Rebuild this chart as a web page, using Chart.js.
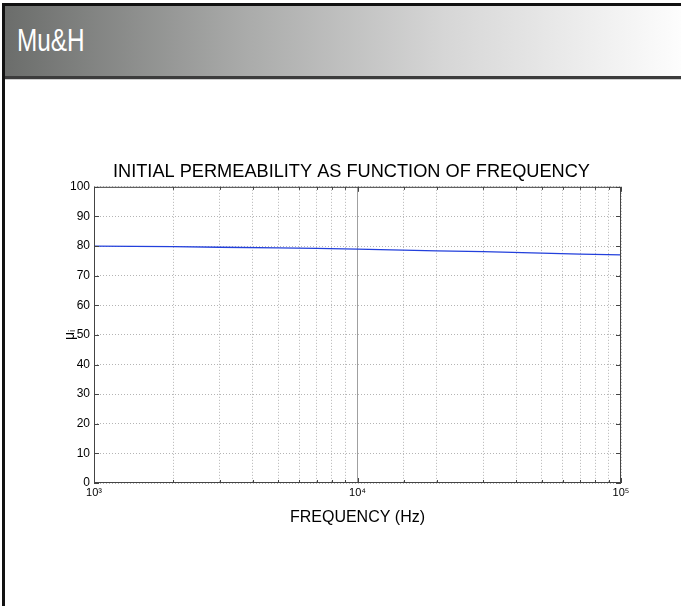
<!DOCTYPE html>
<html>
<head>
<meta charset="utf-8">
<script src="https://cdn.jsdelivr.net/npm/chart.js@4"></script>
<style>
  html, body { margin: 0; padding: 0; background: #fff; }
  body { width: 681px; height: 606px; position: relative; overflow: hidden; }
  .leftbar { position: absolute; left: 2px; top: 3px; width: 3px; height: 603px; background: #111; }
  .topbar { position: absolute; left: 2px; top: 3px; width: 679px; height: 3px; background: #111; }
  .head { position: absolute; left: 5px; top: 6px; width: 676px; height: 70px;
          background: linear-gradient(to right, #6b6d6b 0%, #a9aaa9 35%, #d6d6d6 65%, #fdfdfd 100%); }
  .headline { position: absolute; left: 5px; top: 76px; width: 676px; height: 3px; background: #3c3c3c; }
  .headline2 { position: absolute; left: 5px; top: 79px; width: 676px; height: 1px; background: #cfcfcf; }
  .head span { position: absolute; left: 12px; top: 16px; color: #fff; font: 32px "Liberation Sans", Arial, sans-serif;
               transform: scaleX(0.76); transform-origin: left top; }
  #muChart { position: absolute; left: 0; top: 0; }
</style>
</head>
<body>
<div class="head"><span>Mu&amp;H</span></div>
<div class="topbar"></div>
<div class="headline"></div>
<div class="headline2"></div>
<div class="leftbar"></div>
<canvas id="muChart" width="681" height="606"></canvas>
<script>
// frequency (Hz) and initial permeability
const freqs = [1000, 2000, 3000, 5000, 7000, 10000, 20000, 30000, 50000, 70000, 100000];
const mu = [80.0, 79.8, 79.6, 79.4, 79.2, 79.0, 78.4, 78.1, 77.6, 77.3, 77.0];
const yTicks = [0, 10, 20, 30, 40, 50, 60, 70, 80, 90, 100];
const decadeLabels = { 1000: '10\u00b3', 10000: '10\u2074', 100000: '10\u2075' };

const points = freqs.map((f, i) => ({ x: f, y: mu[i] }));

// MATLAB style box with inward ticks
const boxPlugin = {
  id: 'box',
  afterLayout(chart) {
    // the original title sits a little left of the plot centre
    if (chart.titleBlock) {
      chart.titleBlock.left = 82;
      chart.titleBlock.right = 621;
    }
  },
  afterDraw(chart) {
    const { ctx, chartArea: a, scales } = chart;
    ctx.save();
    ctx.strokeStyle = '#444';
    ctx.lineWidth = 1;
    ctx.strokeRect(a.left + 0.5, a.top + 0.5, a.right - a.left - 1, a.bottom - a.top - 1);
    ctx.beginPath();
    yTicks.forEach(v => {
      const y = Math.round(scales.y.getPixelForValue(v)) + 0.5;
      ctx.moveTo(a.left, y); ctx.lineTo(a.left + 5, y);
      ctx.moveTo(a.right, y); ctx.lineTo(a.right - 5, y);
    });
    scales.x.ticks.forEach(t => {
      const x = Math.round(scales.x.getPixelForValue(t.value)) + 0.5;
      const len = decadeLabels[t.value] ? 5 : 3;
      ctx.moveTo(x, a.bottom); ctx.lineTo(x, a.bottom - len);
      ctx.moveTo(x, a.top); ctx.lineTo(x, a.top + len);
    });
    ctx.stroke();
    ctx.restore();
  }
};

new Chart(document.getElementById('muChart'), {
  type: 'line',
  data: {
    datasets: [{
      data: points,
      borderColor: '#2340dc',
      borderWidth: 1.3,
      pointRadius: 0,
      tension: 0,
      fill: false
    }]
  },
  options: {
    responsive: false,
    animation: false,
    devicePixelRatio: 1,
    layout: { padding: { left: 0, right: 60, top: 161, bottom: 75 } },
    plugins: {
      legend: { display: false },
      tooltip: { enabled: false },
      title: {
        display: true,
        text: 'INITIAL PERMEABILITY AS FUNCTION OF FREQUENCY',
        color: '#000',
        font: { family: '"Liberation Sans", Arial, sans-serif', size: 18.2, weight: 'normal' },
        padding: { top: 0, bottom: 4 }
      }
    },
    scales: {
      x: {
        type: 'logarithmic',
        min: 1000,
        max: 100000,
        afterFit(scale) { scale.height = 48; },
        grid: {
          drawTicks: false,
          color: ctx => ctx.tick && ctx.tick.value === 10000 ? '#a0a0a0' : '#b4b4b4',
          lineWidth: 1
        },
        border: {
          display: false,
          dash: ctx => ctx.tick && ctx.tick.value === 10000 ? [] : [1, 2]
        },
        ticks: {
          autoSkip: false,
          maxRotation: 0,
          padding: 3,
          color: '#000',
          font: { family: '"Liberation Sans", Arial, sans-serif', size: 11 },
          callback: v => decadeLabels[v] || ''
        },
        title: {
          display: true,
          text: 'FREQUENCY (Hz)',
          color: '#000',
          font: { family: '"Liberation Sans", Arial, sans-serif', size: 16 },
          padding: { top: 0, bottom: 4 }
        }
      },
      y: {
        min: 0,
        max: 100,
        afterFit(scale) { scale.width = 94; },
        grid: { drawTicks: false, color: '#b4b4b4', lineWidth: 1 },
        border: { display: false, dash: [1, 2] },
        ticks: {
          stepSize: 10,
          padding: 4,
          color: '#000',
          font: { family: '"Liberation Sans", Arial, sans-serif', size: 12 }
        },
        title: {
          display: true,
          text: 'μᵢ',
          color: '#000',
          font: { family: '"Liberation Sans", Arial, sans-serif', size: 14 },
          padding: { top: 62, bottom: 0 }
        }
      }
    }
  },
  plugins: [boxPlugin]
});
</script>
</body>
</html>
